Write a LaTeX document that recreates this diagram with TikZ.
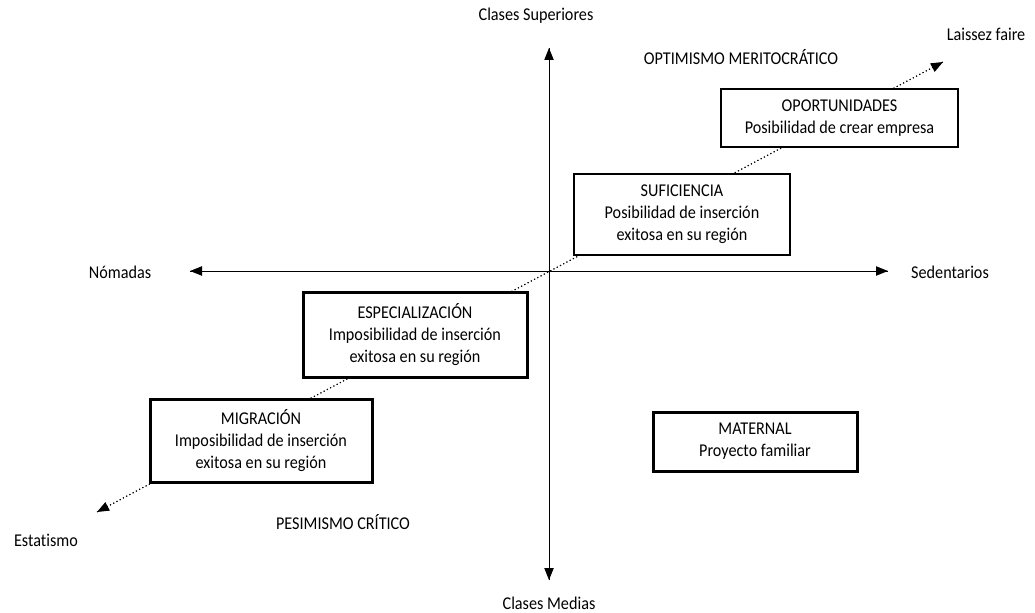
\documentclass[tikz,border=0pt]{standalone}
\usepackage{fontspec}
\setmainfont{Carlito}[Ligatures=NoCommon,FakeStretch=0.9]
\usetikzlibrary{arrows.meta}

\tikzset{
  tip/.style={-{Triangle[length=9pt,width=7pt]}},
  caja/.style={draw,fill=white,line width=2.25pt,align=center,inner sep=0pt,font=\fontsize{13.5}{16.5}\selectfont},
  cajafina/.style={caja,line width=1.5pt},
  etiq/.style={inner sep=0pt,font=\fontsize{13.5}{16.5}\selectfont}
}

\begin{document}
\begin{tikzpicture}[x=0.75pt,y=0.75pt,yscale=-1,xscale=1]
        \useasboundingbox (0,0) rectangle (1035,613);
        % axis ends
        \coordinate (arriba) at (549,48);
        \coordinate (abajo) at (549,580);
        \coordinate (izq) at (190,271);
        \coordinate (der) at (888,271);
        \coordinate (est) at (97,512);
        \coordinate (lf) at (943,62);

        \draw [tip, line width=0.75pt] (abajo) -- (arriba);
        \draw [tip, line width=0.75pt] (arriba) -- (abajo);
        \draw [tip, line width=0.75pt] (der) -- (izq);
        \draw [tip, line width=0.75pt] (izq) -- (der);
        \draw [tip, dotted, line width=0.75pt] (lf) -- (est);
        \draw [tip, dotted, line width=0.75pt] (est) -- (lf);

        % boxes
        \node [cajafina, minimum width=177.75pt, minimum height=43.5pt] (oport) at (839.5,118) {OPORTUNIDADES\\Posibilidad de crear empresa};
        \node [cajafina, minimum width=162pt, minimum height=60.75pt] (sufic) at (682,214.5) {SUFICIENCIA\\Posibilidad de inserción\\exitosa en su región};
        \node [caja, minimum width=168pt, minimum height=63.75pt] (espec) at (415,334.5) {ESPECIALIZACIÓN\\Imposibilidad de inserción\\exitosa en su región};
        \node [caja, minimum width=166.5pt, minimum height=62.25pt] (migr) at (261,440.5) {MIGRACIÓN\\Imposibilidad de inserción\\exitosa en su región};
        \node [caja, minimum width=153pt, minimum height=44.25pt] (matern) at (755,441.5) {MATERNAL\\Proyecto familiar};

        % labels
        \node [etiq] (sup) at (536,16) {Clases Superiores};
        \node [etiq] (med) at (549,603) {Clases Medias};
        \node [etiq] (nom) at (120,272) {Nómadas};
        \node [etiq] (sed) at (950,272) {Sedentarios};
        \node [etiq] (laissez) at (986,34) {Laissez faire};
        \node [etiq] (estat) at (46,540) {Estatismo};
        \node [etiq] (optim) at (741,57) {OPTIMISMO MERITOCRÁTICO};
        \node [etiq] (pesim) at (343,522) {PESIMISMO CRÍTICO};
    \end{tikzpicture}
\end{document}
